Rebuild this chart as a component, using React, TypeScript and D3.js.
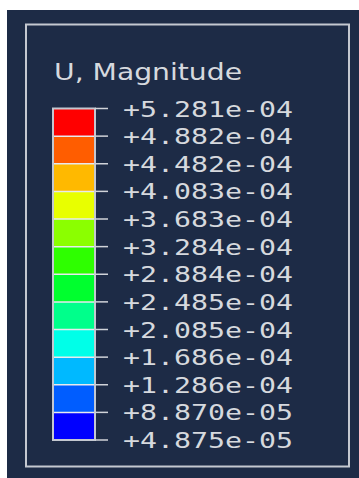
import React, { useEffect, useRef } from 'react'
import * as d3 from 'd3'

const title = 'U, Magnitude'

const tickLabels = [
  '+5.281e-04',
  '+4.882e-04',
  '+4.482e-04',
  '+4.083e-04',
  '+3.683e-04',
  '+3.284e-04',
  '+2.884e-04',
  '+2.485e-04',
  '+2.085e-04',
  '+1.686e-04',
  '+1.286e-04',
  '+8.870e-05',
  '+4.875e-05',
]

// one colour per band, top (max) to bottom (min)
const bandColors = [
  '#ff0000',
  '#ff5d00',
  '#ffb900',
  '#e8ff00',
  '#8bff00',
  '#2eff00',
  '#00ff2e',
  '#00ff8b',
  '#00ffe8',
  '#00b9ff',
  '#005dff',
  '#0000ff',
]

const W = 359
const H = 478

export default function App() {
  const svgRef = useRef<SVGSVGElement>(null)

  useEffect(() => {
    if (!svgRef.current) return
    const svg = d3.select(svgRef.current)
    svg.selectAll('*').remove()

    svg.append('rect').attr('width', W).attr('height', H).attr('fill', '#ffffff')
    svg
      .append('rect')
      .attr('x', 7)
      .attr('y', 10)
      .attr('width', W - 7)
      .attr('height', H - 10)
      .attr('fill', '#1d2b46')

    // frame
    svg
      .append('rect')
      .attr('x', 26)
      .attr('y', 24.5)
      .attr('width', 323)
      .attr('height', 442)
      .attr('fill', 'none')
      .attr('stroke', '#c4c8d0')
      .attr('stroke-width', 2)

    svg
      .append('text')
      .attr('x', 54)
      .attr('y', 80)
      .attr('fill', '#d6d9de')
      .style('font-family', 'DejaVu Sans')
      .style('font-size', '23px')
      .attr('textLength', 188)
      .attr('lengthAdjust', 'spacingAndGlyphs')
      .text(title)

    const barX = 53
    const barW = 42
    const y = d3
      .scaleLinear()
      .domain([0, tickLabels.length - 1])
      .range([108.5, 440])

    const bar = svg.append('g')

    bar
      .selectAll('rect.band')
      .data(bandColors)
      .join('rect')
      .attr('class', 'band')
      .attr('x', barX)
      .attr('y', (_, i) => y(i))
      .attr('width', barW)
      .attr('height', (_, i) => y(i + 1) - y(i))
      .attr('fill', (d) => d)

    // separators between bands
    bar
      .selectAll('line.sep')
      .data(d3.range(1, bandColors.length))
      .join('line')
      .attr('class', 'sep')
      .attr('x1', barX)
      .attr('x2', barX + barW)
      .attr('y1', (d) => y(d))
      .attr('y2', (d) => y(d))
      .attr('stroke', '#e8eaee')
      .attr('stroke-width', 1.5)

    bar
      .append('rect')
      .attr('x', barX)
      .attr('y', y(0))
      .attr('width', barW)
      .attr('height', y(tickLabels.length - 1) - y(0))
      .attr('fill', 'none')
      .attr('stroke', '#c4c8d0')
      .attr('stroke-width', 2)

    // ticks + labels
    const ticks = svg
      .append('g')
      .selectAll('g')
      .data(tickLabels)
      .join('g')
      .attr('transform', (_, i) => `translate(0,${y(i)})`)

    ticks
      .append('line')
      .attr('x1', barX + barW)
      .attr('x2', 108)
      .attr('stroke', '#d0d3d9')
      .attr('stroke-width', 1.5)

    ticks
      .append('text')
      .attr('x', 123)
      .attr('y', 8)
      .attr('fill', '#d6d9de')
      .style('font-family', 'DejaVu Sans Mono')
      .style('font-size', '22px')
      .attr('textLength', 170)
      .attr('lengthAdjust', 'spacingAndGlyphs')
      .text((d) => d)
  }, [])

  return (
    <svg
      ref={svgRef}
      width={W}
      height={H}
      style={{ position: 'absolute', left: 0, top: 0, display: 'block' }}
    />
  )
}
